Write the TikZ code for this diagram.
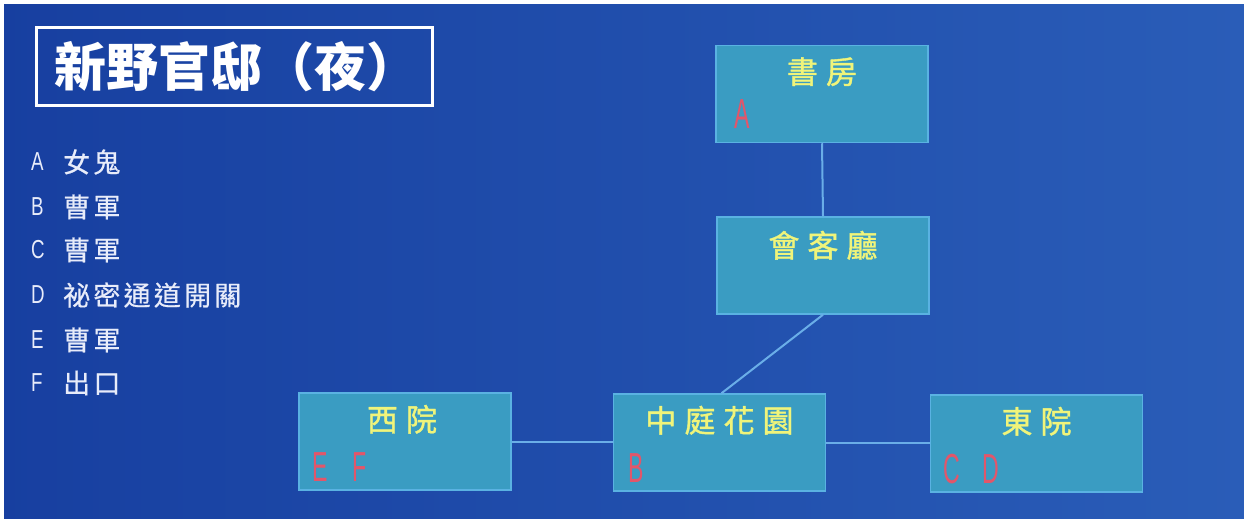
\documentclass[tikz,border=0pt]{standalone}
\usepackage{fontspec}
\usepackage{graphicx}
\newfontfamily\cjk{Noto Sans CJK TC}
\newfontfamily\latn{Liberation Sans}
\definecolor{bgL}{HTML}{173FA0}
\definecolor{bgR}{HTML}{2A5DB8}
\definecolor{roomfill}{HTML}{3A9CC2}
\definecolor{roomedge}{HTML}{5AB2E2}
\definecolor{linkc}{HTML}{6AAEE8}
\definecolor{ylw}{HTML}{F0F47A}
\definecolor{redl}{HTML}{E2566A}
\definecolor{legc}{HTML}{E8ECFA}
\tikzset{
  room/.style={draw=roomedge, line width=1.5pt, fill=roomfill, inner sep=0pt,
    minimum width=212pt, minimum height=97pt},
  rlabel/.style={text=ylw, font=\cjk\fontsize{31}{31}\selectfont\addfontfeature{LetterSpace=26,FakeBold=1.2}, inner sep=0pt},
  rletter/.style={text=redl, font=\latn\fontsize{42}{42}\selectfont, inner sep=0pt, anchor=south west},
  link/.style={draw=linkc, line width=2pt},
  legl/.style={text=legc, font=\latn\fontsize{26}{26}\selectfont, inner sep=0pt, anchor=west},
  legt/.style={text=legc, font=\cjk\fontsize{27}{27}\selectfont\addfontfeature{LetterSpace=12,FakeBold=0.6}, inner sep=0pt, anchor=west}
}
\begin{document}
\begin{tikzpicture}[x=1pt,y=-1pt]
\useasboundingbox (0,0) rectangle (1244,519);
\shade[left color=bgL, right color=bgR] (-6,-6) rectangle (1250,525);
\fill[white] (-6,-6) rectangle (1250,4);
\fill[white] (-6,-6) rectangle (4,525);
% title
\node[draw=white, line width=3pt, minimum width=396pt, minimum height=77pt, inner sep=0pt] (title) at (234,66.5) {};
\node[text=white, font=\cjk\bfseries\fontsize{52}{52}\selectfont, inner sep=0pt] (titletext) at (236,67) {新野官邸（夜）};
% legend
\foreach \y/\l/\t [count=\i] in {162/A/女鬼,207/B/曹軍,250/C/曹軍,295/D/祕密通道開關,340/E/曹軍,383/F/出口}{
  \node[legl] (legL\i) at (31,\y) {\scalebox{0.72}[1]{\l}};
  \node[legt] (legT\i) at (63,\y) {\t};
}
% rooms
\node[room] (shufang) at (822,94) {};
\node[room] (huike) at (823,265.5) {};
\node[room] (xiyuan) at (405,441.5) {};
\node[room] (zhongting) at (719.5,442.5) {};
\node[room] (dongyuan) at (1036.5,443.5) {};
% links
\draw[link] (shufang.south) -- (huike.north);
\draw[link] (huike.south) -- ([xshift=2pt]zhongting.north);
\draw[link] (xiyuan.east) -- (xiyuan.east -| zhongting.west);
\draw[link] (zhongting.east) -- (zhongting.east -| dongyuan.west);
% labels
\node[rlabel] (l1) at ([yshift=-27pt]shufang.north) {書房};
\node[rlabel] (l2) at ([yshift=-29pt]huike.north) {會客廳};
\node[rlabel] (l3) at ([xshift=-3pt,yshift=-27pt]xiyuan.north) {西院};
\node[rlabel] (l4) at ([yshift=-27pt]zhongting.north) {中庭花園};
\node[rlabel] (l5) at ([yshift=-27pt]dongyuan.north) {東院};
% letters
\node[rletter] (a) at ([xshift=19pt,yshift=15pt]shufang.south west) {\scalebox{0.55}[1]{A}};
\node[rletter] (b) at ([xshift=16pt,yshift=9pt]zhongting.south west) {\scalebox{0.55}[1]{B}};
\node[rletter] (ef) at ([xshift=14pt,yshift=9pt]xiyuan.south west) {\scalebox{0.55}[1]{E\hspace{44pt}F}};
\node[rletter] (cd) at ([xshift=14pt,yshift=9pt]dongyuan.south west) {\scalebox{0.55}[1]{C\hspace{40pt}D}};
\end{tikzpicture}
\end{document}
